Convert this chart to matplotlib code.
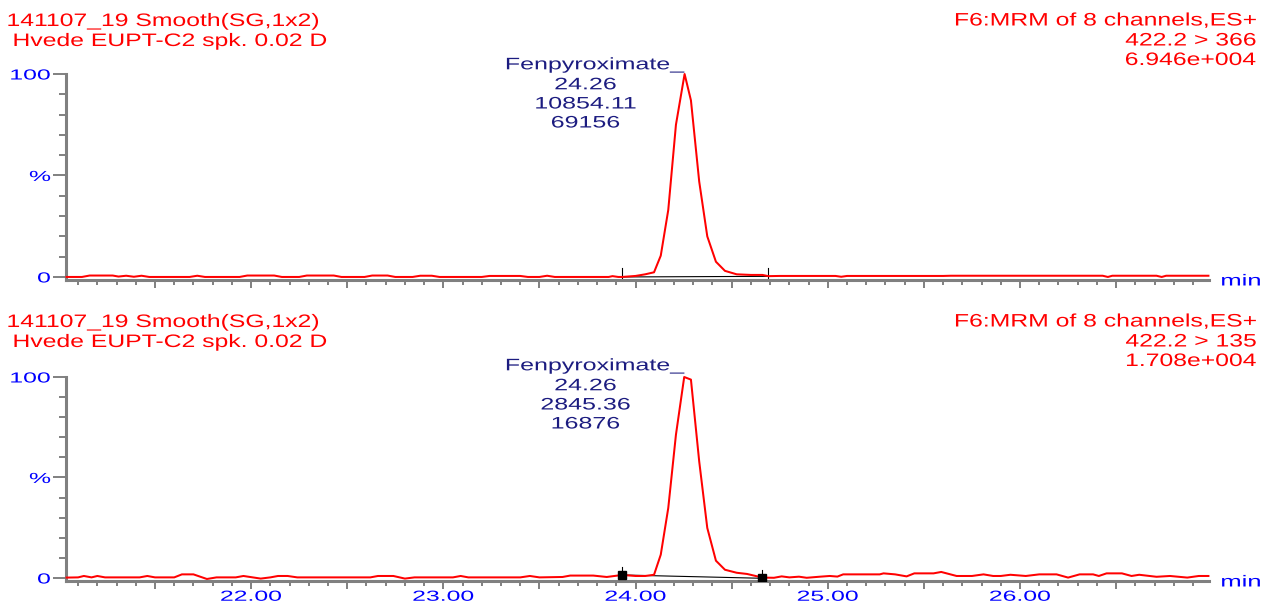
import numpy as np
import matplotlib
matplotlib.use('Agg')
import matplotlib.pyplot as plt
from matplotlib import patheffects as pe
from matplotlib.transforms import Affine2D

plt.rcParams['font.family'] = ['Liberation Sans', 'DejaVu Sans']

W, H = 1263, 605

sample = '141107_19 Smooth(SG,1x2)'
description = 'Hvede EUPT-C2 spk. 0.02 D'
function = 'F6:MRM of 8 channels,ES+'
transitions = ['422.2 > 366', '422.2 > 135']
max_intensity = ['6.946e+004', '1.708e+004']
compound = 'Fenpyroximate_'
peak_rt = ['24.26', '24.26']
peak_area = ['10854.11', '2845.36']
peak_height = ['69156', '16876']

# retention time (min) / relative intensity (%) - 422.2 > 366
time_366 = [21.04, 21.12, 21.16, 21.28, 21.31, 21.35, 21.39, 21.43, 21.47, 21.68,
            21.72, 21.76, 21.94, 21.98, 22.12, 22.16, 22.25, 22.29, 22.43, 22.47,
            22.59, 22.63, 22.71, 22.75, 22.84, 22.88, 22.94, 22.98, 23.20, 23.24,
            23.40, 23.44, 23.50, 23.54, 23.58, 23.86, 23.88, 23.91, 23.93, 24.00,
            24.05, 24.096, 24.131, 24.170, 24.210, 24.255, 24.288, 24.331, 24.373, 24.418,
            24.465, 24.526, 24.60, 24.66, 24.69, 24.75, 25.04, 25.07, 25.10, 25.60,
            25.64, 25.68, 26.43, 26.457, 26.48, 26.71, 26.737, 26.76, 26.98]
pct_366 = [0.0, 0.0, 0.7, 0.7, 0.2, 0.6, 0.1, 0.6, 0.0, 0.0,
           0.6, 0.0, 0.0, 0.7, 0.7, 0.0, 0.0, 0.7, 0.7, 0.0,
           0.0, 0.7, 0.7, 0.0, 0.0, 0.6, 0.6, 0.0, 0.0, 0.5,
           0.5, 0.0, 0.0, 0.6, 0.0, 0.0, 0.4, 0.0, 0.0, 0.5,
           1.3, 2.3, 10.5, 33.0, 75.0, 100.0, 87.0, 47.0, 20.0, 7.5,
           3.0, 1.3, 1.0, 1.0, 0.4, 0.5, 0.5, 0.1, 0.5, 0.5,
           0.6, 0.6, 0.6, 0.0, 0.6, 0.6, 0.0, 0.6, 0.6]

# retention time (min) / relative intensity (%) - 422.2 > 135
time_135 = [21.04, 21.10, 21.13, 21.17, 21.20, 21.24, 21.42, 21.46, 21.50, 21.60,
            21.64, 21.70, 21.77, 21.82, 21.92, 21.96, 22.05, 22.10, 22.14, 22.19,
            22.24, 22.62, 22.66, 22.74, 22.80, 22.85, 23.05, 23.09, 23.13, 23.40,
            23.45, 23.50, 23.62, 23.66, 23.78, 23.85, 23.93, 24.00, 24.05, 24.096,
            24.131, 24.170, 24.210, 24.253, 24.288, 24.331, 24.373, 24.418, 24.465, 24.526,
            24.58, 24.66, 24.72, 24.76, 24.80, 24.85, 24.89, 24.96, 25.01, 25.05,
            25.08, 25.27, 25.29, 25.35, 25.41, 25.45, 25.55, 25.59, 25.67, 25.75,
            25.81, 25.86, 25.90, 25.95, 26.03, 26.10, 26.19, 26.25, 26.31, 26.38,
            26.41, 26.45, 26.53, 26.58, 26.62, 26.71, 26.78, 26.87, 26.93, 26.98]
pct_135 = [0.2, 0.3, 1.0, 0.3, 1.0, 0.3, 0.3, 1.0, 0.3, 0.3,
           1.8, 1.8, -0.5, 0.3, 0.3, 1.0, -0.3, 0.3, 1.0, 1.0,
           0.3, 0.3, 1.0, 1.0, -0.3, 0.3, 0.3, 1.0, 0.3, 0.3,
           1.0, 0.3, 0.5, 1.2, 1.2, 0.5, 1.5, 1.0, 1.0, 1.6,
           11.6, 34.8, 71.3, 100.0, 98.7, 58.0, 24.9, 8.6, 4.1, 2.6,
           2.0, 0.2, 0.1, 0.8, 0.3, 0.65, 0.1, 0.65, 1.0, 0.7,
           1.8, 1.8, 2.3, 1.8, 0.8, 2.3, 2.3, 3.0, 1.0, 1.0,
           1.8, 1.0, 1.0, 1.6, 1.0, 1.8, 1.8, 0.2, 1.8, 1.8,
           1.0, 2.3, 2.3, 1.0, 1.6, 0.6, 1.0, 0.2, 1.0, 1.0]

# integration start / end of the peak (min, %)
integ_t = [[23.93, 24.69], [23.93, 24.66]]
integ_y = [[0.0, 0.3], [1.5, -0.15]]

RED = '#ff0000'
BLUE = '#0000ff'
NAVY = '#1c1c80'
GRAY = '#808080'


class Stretch(pe.AbstractPathEffect):
    # the export font is drawn wide, so widen the glyphs around the anchor
    def __init__(self, sx, ha='left'):
        super().__init__()
        self.sx = sx
        self.ha = ha

    def draw_path(self, renderer, gc, tpath, affine, rgbFace=None):
        bb = tpath.get_extents(affine)
        x0 = {'left': bb.x0, 'center': (bb.x0 + bb.x1) / 2, 'right': bb.x1}[self.ha]
        tr = affine + Affine2D().translate(-x0, 0).scale(self.sx, 1).translate(x0, 0)
        renderer.draw_path(gc, tpath, tr, rgbFace)


fig = plt.figure(figsize=(W / 100, H / 100), dpi=100)


def put(x, y, s, color, size, sx, ha='left'):
    fig.text(x / W, 1 - y / H, s, color=color, fontsize=size, ha=ha,
             va='baseline', path_effects=[Stretch(sx, ha)])


traces = [(time_366, pct_366), (time_135, pct_135)]
tops = [74, 377]
bots = [280, 581]
shifts = [0, 301]

for i, (t, p) in enumerate(traces):
    top, bot, dy = tops[i], bots[i], shifts[i]
    ax = fig.add_axes([66 / W, 1 - bot / H, (1209 - 66) / W, (bot - top) / H])
    ax.plot(t, p, color=RED, lw=1.45, clip_on=False, zorder=3)

    # integration baseline and start/end markers
    ax.plot(integ_t[i], integ_y[i], color='black', lw=0.8, zorder=2)
    for tt, yy in zip(integ_t[i], integ_y[i]):
        ax.plot([tt, tt], [yy - 0.8, yy + 4.2], color='black', lw=0.8, zorder=2)
    if i == 1:
        ax.plot(integ_t[i], integ_y[i], 's', color='black', ms=6, zorder=4)

    ax.set_xlim(21.037, 26.983)
    ax.set_ylim(-1.5, 100)
    for s in ['top', 'right']:
        ax.spines[s].set_visible(False)
    for s in ['left', 'bottom']:
        ax.spines[s].set_color(GRAY)
        ax.spines[s].set_linewidth(2.2)

    ax.set_yticks([0, 50, 100], ['0', '%', '100'])
    ax.set_yticks(np.arange(0, 101, 10), minor=True)
    xt = np.arange(21.5, 27, 0.5)
    ax.set_xticks(xt, [f'{v:.2f}' if (v % 1 == 0 and i == 1) else '' for v in xt])
    ax.set_xticks(np.arange(21.1, 27, 0.1), minor=True)

    ax.tick_params(which='both', color=GRAY, labelcolor=BLUE, width=1.4)
    ax.tick_params(axis='x', which='major', length=5.8, pad=0.5, labelsize=10.5)
    ax.tick_params(axis='x', which='minor', length=3.6)
    ax.tick_params(axis='y', which='major', length=9.1, pad=2, labelsize=10.5)
    ax.tick_params(axis='y', which='minor', length=4.8)
    for lab in ax.get_yticklabels():
        lab.set_path_effects([Stretch(1.7, 'right')])
    for lab in ax.get_xticklabels():
        lab.set_path_effects([Stretch(1.7, 'center')])

    # header lines
    put(7, 26 + dy, sample, RED, 13, 1.37)
    put(13, 46 + dy, description, RED, 13, 1.37)
    put(1256, 25.5 + dy, function, RED, 13, 1.37, 'right')
    put(1256, 45.5 + dy, transitions[i], RED, 13, 1.37, 'right')
    put(1256, 65 + dy, max_intensity[i], RED, 13, 1.37, 'right')

    # peak label
    put(595, 69.3 + dy, compound, NAVY, 12, 1.5, 'center')
    put(585.5, 89.3 + dy, peak_rt[i], NAVY, 12, 1.5, 'center')
    put(585.5, 108.5 + dy, peak_area[i], NAVY, 12, 1.5, 'center')
    put(585.5, 127.5 + dy, peak_height[i], NAVY, 12, 1.5, 'center')

    put(1221, bot + 5.5, 'min', BLUE, 11.5, 1.6)

fig.savefig('out.png', dpi=100)
